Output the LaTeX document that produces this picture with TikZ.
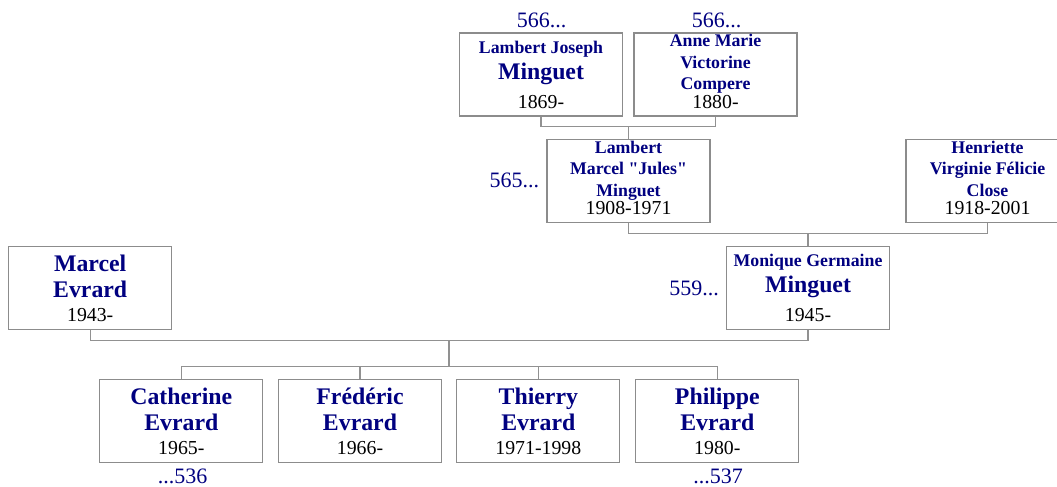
\documentclass[tikz,border=0pt]{standalone}
\usepackage{fontspec}
\setmainfont{Liberation Serif}[Ligatures=TeXOff]
\usetikzlibrary{calc}
\definecolor{boxgray}{RGB}{140,140,140}
\definecolor{linegray}{RGB}{145,145,145}
\definecolor{namenavy}{RGB}{0,0,128}
\tikzset{
  pbox/.style={draw=boxgray, line width=1.3pt, minimum width=163pt, minimum height=83pt, inner sep=0pt, fill=white},
  smallname/.style={font=\fontsize{17.8}{20}\selectfont\bfseries, text=namenavy, anchor=base, inner sep=0pt},
  bigname/.style={font=\fontsize{23.8}{26}\selectfont\bfseries, text=namenavy, anchor=base, inner sep=0pt},
  datetxt/.style={font=\fontsize{19.8}{22}\selectfont, text=black, anchor=base, inner sep=0pt},
  reftxt/.style={font=\fontsize{22}{24}\selectfont, text=namenavy, inner sep=0pt},
  conn/.style={draw=linegray, line width=1.3pt}
}
\newcommand\tline[5]{\node[#1] (#2) at ($(#3.south)+(0,#4)$) {#5};}
\begin{document}
\begin{tikzpicture}[x=1pt,y=-1pt]
\useasboundingbox (0,0) rectangle (1057,487);
% boxes
\node[pbox] (LJ) at (541,74.5) {};
\node[pbox] (AM) at (715.5,74.5) {};
\node[pbox] (LM) at (628.5,180.7) {};
\node[pbox] (HV) at (987.5,180.7) {};
\node[pbox] (MG) at (808,287.8) {};
\node[pbox] (ME) at (90.2,287.8) {};
\node[pbox] (CA) at (181.3,421) {};
\node[pbox] (FR) at (360,421) {};
\node[pbox] (TH) at (538.3,421) {};
\node[pbox] (PH) at (717.3,421) {};
% texts
\tline{smallname}{LJa}{LJ}{-63.5}{Lambert Joseph}
\tline{bigname}{LJb}{LJ}{-37.5}{Minguet}
\tline{datetxt}{LJc}{LJ}{-8.3}{1869-}
\tline{smallname}{AMa}{AM}{-69.8}{Anne Marie}
\tline{smallname}{AMb}{AM}{-48.6}{Victorine}
\tline{smallname}{AMc}{AM}{-27.2}{Compere}
\tline{datetxt}{AMd}{AM}{-8.3}{1880-}
\tline{smallname}{LMa}{LM}{-69.8}{Lambert}
\tline{smallname}{LMb}{LM}{-48.2}{Marcel "Jules"}
\tline{smallname}{LMc}{LM}{-26.8}{Minguet}
\tline{datetxt}{LMd}{LM}{-8.8}{1908-1971}
\tline{smallname}{HVa}{HV}{-69.8}{Henriette}
\tline{smallname}{HVb}{HV}{-48.2}{Virginie Félicie}
\tline{smallname}{HVc}{HV}{-26.8}{Close}
\tline{datetxt}{HVd}{HV}{-8.8}{1918-2001}
\tline{smallname}{MGa}{MG}{-63.5}{Monique Germaine}
\tline{bigname}{MGb}{MG}{-37.5}{Minguet}
\tline{datetxt}{MGc}{MG}{-8.3}{1945-}
\tline{bigname}{MEa}{ME}{-58.8}{Marcel}
\tline{bigname}{MEb}{ME}{-32.5}{Evrard}
\tline{datetxt}{MEc}{ME}{-8.5}{1943-}
\tline{bigname}{CAa}{CA}{-58.8}{Catherine}
\tline{bigname}{CAb}{CA}{-32.5}{Evrard}
\tline{datetxt}{CAc}{CA}{-8.8}{1965-}
\tline{bigname}{FRa}{FR}{-58.8}{Frédéric}
\tline{bigname}{FRb}{FR}{-32.5}{Evrard}
\tline{datetxt}{FRc}{FR}{-8.8}{1966-}
\tline{bigname}{THa}{TH}{-58.8}{Thierry}
\tline{bigname}{THb}{TH}{-32.5}{Evrard}
\tline{datetxt}{THc}{TH}{-8.8}{1971-1998}
\tline{bigname}{PHa}{PH}{-58.8}{Philippe}
\tline{bigname}{PHb}{PH}{-32.5}{Evrard}
\tline{datetxt}{PHc}{PH}{-8.8}{1980-}
% reference numbers
\node[reftxt, anchor=base] (rLJ) at ($(LJ.north)+(0.7,-5.2)$) {566...};
\node[reftxt, anchor=base] (rAM) at ($(AM.north)+(1.2,-5.2)$) {566...};
\node[reftxt, anchor=base east] (rLM) at ($(LM.west)+(-7,6.8)$) {565...};
\node[reftxt, anchor=base east] (rMG) at ($(MG.west)+(-6.7,7.8)$) {559...};
\node[reftxt, anchor=base] (rCA) at ($(CA.south)+(1.2,20)$) {...536};
\node[reftxt, anchor=base] (rPH) at ($(PH.south)+(0.7,20)$) {...537};
% connectors
\draw[conn] (LJ.south) -- ++(0,10) coordinate (j1) -| (AM.south);
\draw[conn] (LM.north) -- (LM.north |- j1);
\draw[conn] (LM.south) -- ++(0,10.3) coordinate (j2) -| (HV.south);
\draw[conn] (MG.north) -- (MG.north |- j2);
\draw[conn] (ME.south) -- ++(0,10.7) coordinate (j3) -| (MG.south);
\coordinate (j3m) at ($(j3)!0.5!(j3 -| MG.south)$);
\draw[conn] (j3m) -- ++(0,26) coordinate (k);
\draw[conn] (CA.north) |- (k);
\draw[conn] (PH.north) |- (k);
\draw[conn] (FR.north) -- (FR.north |- k);
\draw[conn] (TH.north) -- (TH.north |- k);
\end{tikzpicture}
\end{document}
